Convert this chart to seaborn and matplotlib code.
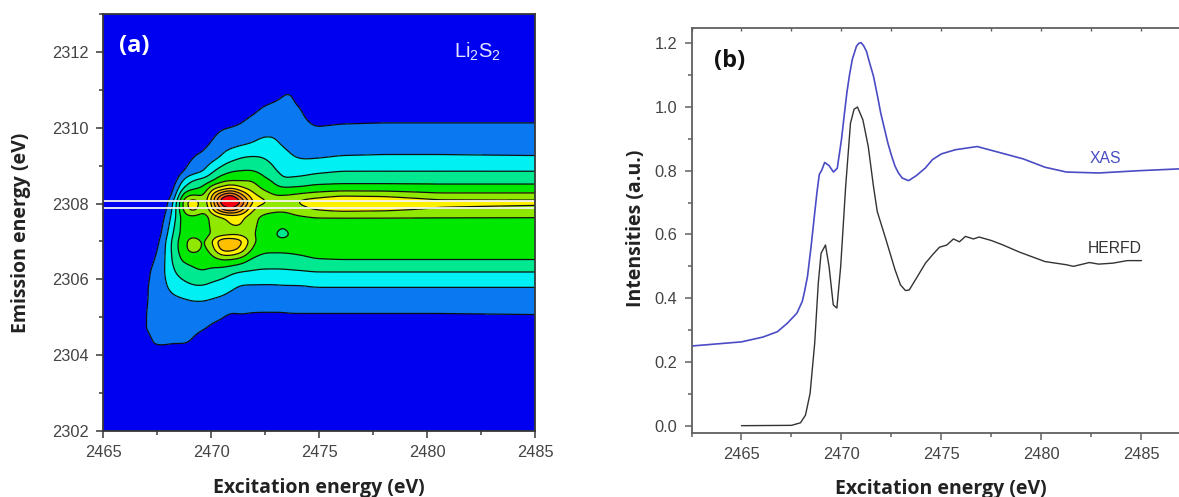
"""
Li2S2 RIXS map (a) and XAS / HERFD spectra (b).
"""

import numpy as np
import pandas as pd
import matplotlib
matplotlib.use("Agg")
import matplotlib.pyplot as plt
from matplotlib.ticker import MultipleLocator
import seaborn as sns

# panel (a): intensity, one line per excitation energy
excitation_map = [2465, 2466.8, 2467.3, 2467.8, 2468.3, 2468.7, 2469.2, 2469.7, 2470.1, 2470.5, 2470.9,
                  2471.4, 2471.9, 2472.4, 2472.9, 2473.3, 2473.7, 2474.2, 2474.8, 2476, 2478, 2480.5, 2485]
emission_map = [2302, 2303.9, 2304.3, 2304.7, 2305.1, 2305.45, 2305.8, 2306.2, 2306.5, 2306.8, 2307.0, 2307.2, 2307.65,
                2307.85, 2308.05, 2308.2, 2308.4, 2308.6, 2308.85, 2309.25, 2309.6, 2310.1, 2310.5, 2310.9, 2311.3, 2313]
intensity_map = [
    [0, 0, 0, 0, 0, 0, 0, 0, 0, 0, 0, 0, 0, 0, 0, 0, 0, 0, 0, 0, 0, 0, 0, 0, 0, 0],
    [0, 0, 0, .7, .6, .4, .3, .1, 0, 0, 0, 0, 0, 0, 0, 0, 0, 0, 0, 0, 0, 0, 0, 0, 0, 0],
    [0, 0, 1.1, 1.4, 1.5, 1.5, 1.5, 1.3, .9, .5, .2, 0, 0, 0, 0, 0, 0, 0, 0, 0, 0, 0, 0, 0, 0, 0],
    [0, 0, 1.1, 1.4, 1.6, 1.7, 1.8, 1.8, 1.7, 1.6, 1.5, 1.2, .7, .4, .2, .1, 0, 0, 0, 0, 0, 0, 0, 0, 0, 0],
    [0, 0, 1, 1.3, 1.5, 1.8, 2.3, 3, 3.4, 3.6, 3.6, 3.3, 2.6, 2.3, 2, 1.2, .8, .4, .1, 0, 0, 0, 0, 0, 0, 0],
    [0, 0, 1.05, 1.3, 1.5, 1.9, 2.6, 3.5, 4.2, 4.6, 4.6, 4.5, 4.7, 5.3, 5.4, 4.8, 3.25, 2.2, 1, .3, 0, 0, 0, 0, 0, 0],
    [0, 0, .9, 1.15, 1.5, 2.05, 2.9, 3.9, 4.2, 5.7, 5.7, 4.7, 4.8, 6.8, 7.1, 5.3, 3.9, 3.15, 1.6, 1.05, .5, 0, 0, 0, 0, 0],
    [0, 0, .5, 1.05, 1.4, 2.05, 2.9, 4, 4.3, 4.5, 4.5, 4.4, 4.4, 4.7, 4.8, 4.7, 4.15, 3.4, 2, 1.15, .8, .2, 0, 0, 0, 0],
    [0, 0, 0, .8, 1.3, 1.9, 2.6, 3.7, 4.5, 5.7, 6.3, 5.3, 5.6, 7.2, 7.9, 7.6, 6, 4, 3, 1.5, 1.1, .6, .1, 0, 0, 0],
    [0, 0, 0, .7, 1.2, 1.8, 2.5, 3.5, 4.9, 7.6, 8, 5.4, 5.9, 9.2, 11, 9.6, 6.3, 4.8, 3.5, 2.1, 1.5, .8, .2, 0, 0, 0],
    [0, 0, 0, .3, .95, 1.55, 2.2, 3.2, 4.8, 7.6, 8, 5.7, 6.3, 10.2, 12, 10.9, 7.2, 4.95, 3.97, 2.5, 1.6, .85, .2, 0, 0, 0],
    [0, 0, 0, .4, 1.05, 1.5, 1.85, 2.95, 4.5, 6.8, 7.4, 5.7, 6.4, 8.6, 10.2, 8.5, 6.2, 4.95, 4.05, 2.9, 1.8, 1, .4, 0, 0, 0],
    [0, 0, 0, .3, .95, 1.6, 1.85, 2.9, 3.7, 4.8, 5.3, 5.2, 5.3, 6.1, 6.8, 6.4, 5.6, 5.05, 4.1, 3, 2, 1.4, .7, .1, 0, 0],
    [0, 0, 0, .4, .95, 1.5, 1.85, 2.8, 3.6, 4.2, 4.4, 4.5, 4.8, 5.3, 6.4, 5.7, 4.85, 4.3, 3.75, 2.95, 2.2, 1.6, 1.1, .4, 0, 0],
    [0, 0, 0, .4, .95, 1.5, 1.85, 2.8, 3.6, 4.2, 4.3, 4.4, 4.85, 5.1, 5.4, 5.05, 4.4, 3.95, 3.2, 2.6, 2.15, 1.7, 1.3, .6, 0, 0],
    [0, 0, 0, .4, .95, 1.5, 1.9, 2.8, 3.6, 4.2, 4.35, 3.2, 4.8, 5.1, 5.4, 5.1, 4.1, 3.05, 2.7, 2.2, 1.9, 1.65, 1.35, .95, .3, 0],
    [0, 0, 0, .4, 1, 1.5, 1.9, 2.85, 3.7, 4.2, 4.35, 4.3, 4.85, 5.15, 5.7, 5.15, 4.15, 3.3, 2.55, 2.05, 1.8, 1.5, 1.25, 1.1, .3, 0],
    [0, 0, 0, .4, 1, 1.5, 1.9, 2.9, 3.8, 4.25, 4.35, 4.4, 4.9, 5.7, 6.3, 5.4, 4.2, 3.4, 2.6, 1.85, 1.6, 1.25, 1, .4, 0, 0],
    [0, 0, 0, .4, 1, 1.5, 2, 3, 3.95, 4.3, 4.4, 4.5, 5, 6.1, 6.6, 5.6, 4.4, 3.6, 2.8, 1.85, 1.5, .9, .3, 0, 0, 0],
    [0, 0, 0, .4, 1, 1.5, 2, 3, 4, 4.3, 4.4, 4.5, 5, 6.4, 7, 6, 4.5, 3.7, 3, 2, 1.6, 1, .4, 0, 0, 0],
    [0, 0, 0, .4, 1, 1.5, 2, 3, 4, 4.3, 4.4, 4.5, 5, 6.3, 6.9, 5.9, 4.5, 3.7, 3, 2.05, 1.6, 1.05, .4, 0, 0, 0],
    [0, 0, 0, .4, 1, 1.5, 2, 3, 4, 4.3, 4.4, 4.5, 5, 5.9, 6.35, 5.4, 4.4, 3.7, 3, 2.05, 1.6, 1.05, .4, 0, 0, 0],
    [0, 0, 0, .4, 1.05, 1.5, 2, 3, 4, 4.3, 4.4, 4.5, 5, 5.7, 6.3, 5.4, 4.4, 3.7, 3, 2, 1.6, 1.05, .4, 0, 0, 0],
]
map_levels = [-1, 1, 2, 3, 4, 5, 6, 7, 8, 9, 10, 13]
map_colors = ["#0000f0", "#0a78f0", "#00f0f4", "#00e890", "#00e800", "#90e800",
              "#fff000", "#ffc000", "#f5a020", "#f07020", "#f40010"]
guide_lines = [2307.87, 2308.07]

# panel (b): spectra
xas_energy = [2462.5, 2465, 2466.07, 2466.8, 2467.3, 2467.77, 2468.04, 2468.15, 2468.3, 2468.48, 2468.66, 2468.77,
              2468.89, 2469.02, 2469.16, 2469.38, 2469.6, 2469.79, 2470, 2470.13, 2470.27, 2470.4, 2470.54, 2470.75,
              2470.87, 2470.98, 2471.1, 2471.25, 2471.4, 2471.6, 2471.8, 2471.96, 2472.32, 2472.5, 2472.68, 2472.85,
              2473.04, 2473.36, 2473.75, 2474.2, 2474.55, 2475, 2475.7, 2476.79, 2477.68, 2479.1, 2480.18, 2481.25,
              2482.86, 2484.82, 2486.93]
xas_intensity = [.25, .263, .278, .295, .322, .353, .39, .42, .468, .562, .667, .73,
                 .788, .803, .826, .816, .796, .808, .898, .97, 1.045, 1.10, 1.149, 1.191,
                 1.2, 1.202, 1.193, 1.175, 1.14, 1.097, 1.035, .982, .887, .848, .814, .793,
                 .777, .769, .785, .809, .835, .853, .866, .876, .861, .837, .811, .796,
                 .793, .80, .806]
herfd_energy = [2465, 2467.5, 2467.95, 2468.2, 2468.43, 2468.66, 2468.84, 2468.98, 2469.2, 2469.38, 2469.59, 2469.77,
                2469.96, 2470.21, 2470.45, 2470.63, 2470.8, 2471.07, 2471.34, 2471.6, 2471.79, 2472.23, 2472.68, 2472.95,
                2473.2, 2473.39, 2473.75, 2474.2, 2474.55, 2474.9, 2475.27, 2475.6, 2475.9, 2476.2, 2476.6, 2476.88,
                2477.5, 2478.04, 2478.93, 2480.18, 2481.25, 2481.6, 2482.4, 2482.86, 2483.57, 2484.29, 2485]
herfd_intensity = [0, .001, .009, .033, .101, .258, .447, .541, .567, .499, .379, .369,
                   .499, .751, .949, .993, 1.0, .96, .876, .751, .672, .583, .489, .442,
                   .424, .426, .463, .51, .536, .56, .567, .586, .577, .594, .586, .592,
                   .581, .568, .544, .515, .505, .5, .512, .507, .51, .518, .518]

W, H = 1179, 497
TICK_COLOR = "#444444"
TICK_FONT = "Liberation Sans"
LABEL_FONT = "Open Sans"


def style_axis(ax, spine_color):
    for side in ax.spines:
        ax.spines[side].set_color(spine_color)
        ax.spines[side].set_linewidth(1.3)
    ax.tick_params(which="major", length=5, width=1.1, color=spine_color, labelcolor=TICK_COLOR,
                   labelsize=11.8, pad=5)
    ax.tick_params(which="minor", length=3, width=1.1, color=spine_color)
    for label in ax.get_xticklabels() + ax.get_yticklabels():
        label.set_fontfamily(TICK_FONT)


def rounded_map():
    # the table is coarse, so round off its corners for the contour lines
    x = np.arange(2465, 2485.01, 0.05)
    y = np.arange(2302, 2313.01, 0.02)
    by_y = np.array([np.interp(y, emission_map, col) for col in intensity_map])
    z = np.array([np.interp(x, excitation_map, by_y[:, j]) for j in range(len(y))])
    for axis, sigma in ((0, 2.5), (1, 4.0)):
        half = int(3 * sigma)
        kernel = np.exp(-0.5 * (np.arange(-half, half + 1) / sigma) ** 2)
        kernel /= kernel.sum()
        z = np.apply_along_axis(lambda v: np.convolve(np.pad(v, half, mode="edge"), kernel, "valid"), axis, z)
    return x, y, z


sns.set_theme(style="ticks")
plt.rcParams["font.family"] = [LABEL_FONT, "DejaVu Sans"]
plt.rcParams["mathtext.default"] = "regular"
plt.rcParams["mathtext.fontset"] = "custom"
plt.rcParams["mathtext.rm"] = TICK_FONT

fig = plt.figure(figsize=(W / 100, H / 100), dpi=100, facecolor="white")

# (a)
ax_a = fig.add_axes([103 / W, 1 - 431 / H, 432 / W, 417 / H])
map_x, map_y, map_z = rounded_map()
ax_a.contourf(map_x, map_y, map_z, levels=map_levels, colors=map_colors)
ax_a.contour(map_x, map_y, map_z, levels=map_levels[1:-1], colors="#101010", linewidths=0.9)
for y in guide_lines:
    ax_a.axhline(y, color="#f4f4f4", lw=1.3)
ax_a.set_xlim(2465, 2485)
ax_a.set_ylim(2302, 2313)
ax_a.xaxis.set_major_locator(MultipleLocator(5))
ax_a.xaxis.set_minor_locator(MultipleLocator(2.5))
ax_a.yaxis.set_major_locator(MultipleLocator(2))
ax_a.yaxis.set_minor_locator(MultipleLocator(1))
ax_a.ticklabel_format(useOffset=False)
style_axis(ax_a, "#383838")
ax_a.set_xlabel("Excitation energy (eV)", fontsize=14, fontweight="bold", color="#222222")
ax_a.set_ylabel("Emission energy (eV)", fontsize=14, fontweight="bold", color="#222222")
ax_a.xaxis.set_label_coords(0.5, -0.113)
ax_a.yaxis.set_label_coords(-0.167, 0.475)
ax_a.text(2465.75, 2312.15, "(a)", color="white", fontsize=17, fontweight="bold", va="center")
ax_a.text(2481.25, 2312, "Li$_2$S$_2$", color="#e4e4ff", fontsize=14.5, va="center", family=TICK_FONT)

# (b)
ax_b = fig.add_axes([691.5 / W, 1 - 433 / H, (W - 691.5) / W, 405 / H])
xas = pd.DataFrame({"energy": xas_energy, "intensity": xas_intensity})
herfd = pd.DataFrame({"energy": herfd_energy, "intensity": herfd_intensity})
sns.lineplot(data=xas, x="energy", y="intensity", color="#4a4cc4", lw=1.2, ax=ax_b)
sns.lineplot(data=herfd, x="energy", y="intensity", color="#333333", lw=1.0, ax=ax_b)
ax_b.set_xlim(2462.5, 2486.88)
ax_b.set_ylim(-0.023, 1.248)
ax_b.xaxis.set_major_locator(MultipleLocator(5))
ax_b.xaxis.set_minor_locator(MultipleLocator(2.5))
ax_b.yaxis.set_major_locator(MultipleLocator(0.2))
ax_b.yaxis.set_minor_locator(MultipleLocator(0.1))
ax_b.ticklabel_format(useOffset=False)
style_axis(ax_b, "#606060")
ax_b.spines["right"].set_visible(False)
top_b = ax_b.secondary_xaxis("top")
top_b.xaxis.set_major_locator(MultipleLocator(2.5))
top_b.tick_params(direction="in", length=2, width=1, color="#606060", labeltop=False)
top_b.spines["top"].set_visible(False)
ax_b.set_xlabel("Excitation energy (eV)", fontsize=14, fontweight="bold", color="#222222")
ax_b.set_ylabel("Intensities (a.u.)", fontsize=14, fontweight="bold", color="#222222")
ax_b.xaxis.set_label_coords(0.512, -0.114)
ax_b.yaxis.set_label_coords(-0.094, 0.506)
ax_b.text(2463.65, 1.145, "(b)", color="#111111", fontsize=17, fontweight="bold", va="center")
ax_b.text(2483.18, 0.84, "XAS", color="#4a4cc4", fontsize=11.3, ha="center", va="center", family=TICK_FONT)
ax_b.text(2483.68, 0.555, "HERFD", color="#333333", fontsize=11.3, ha="center", va="center", family=TICK_FONT)

plt.savefig("out.png", dpi=100)
